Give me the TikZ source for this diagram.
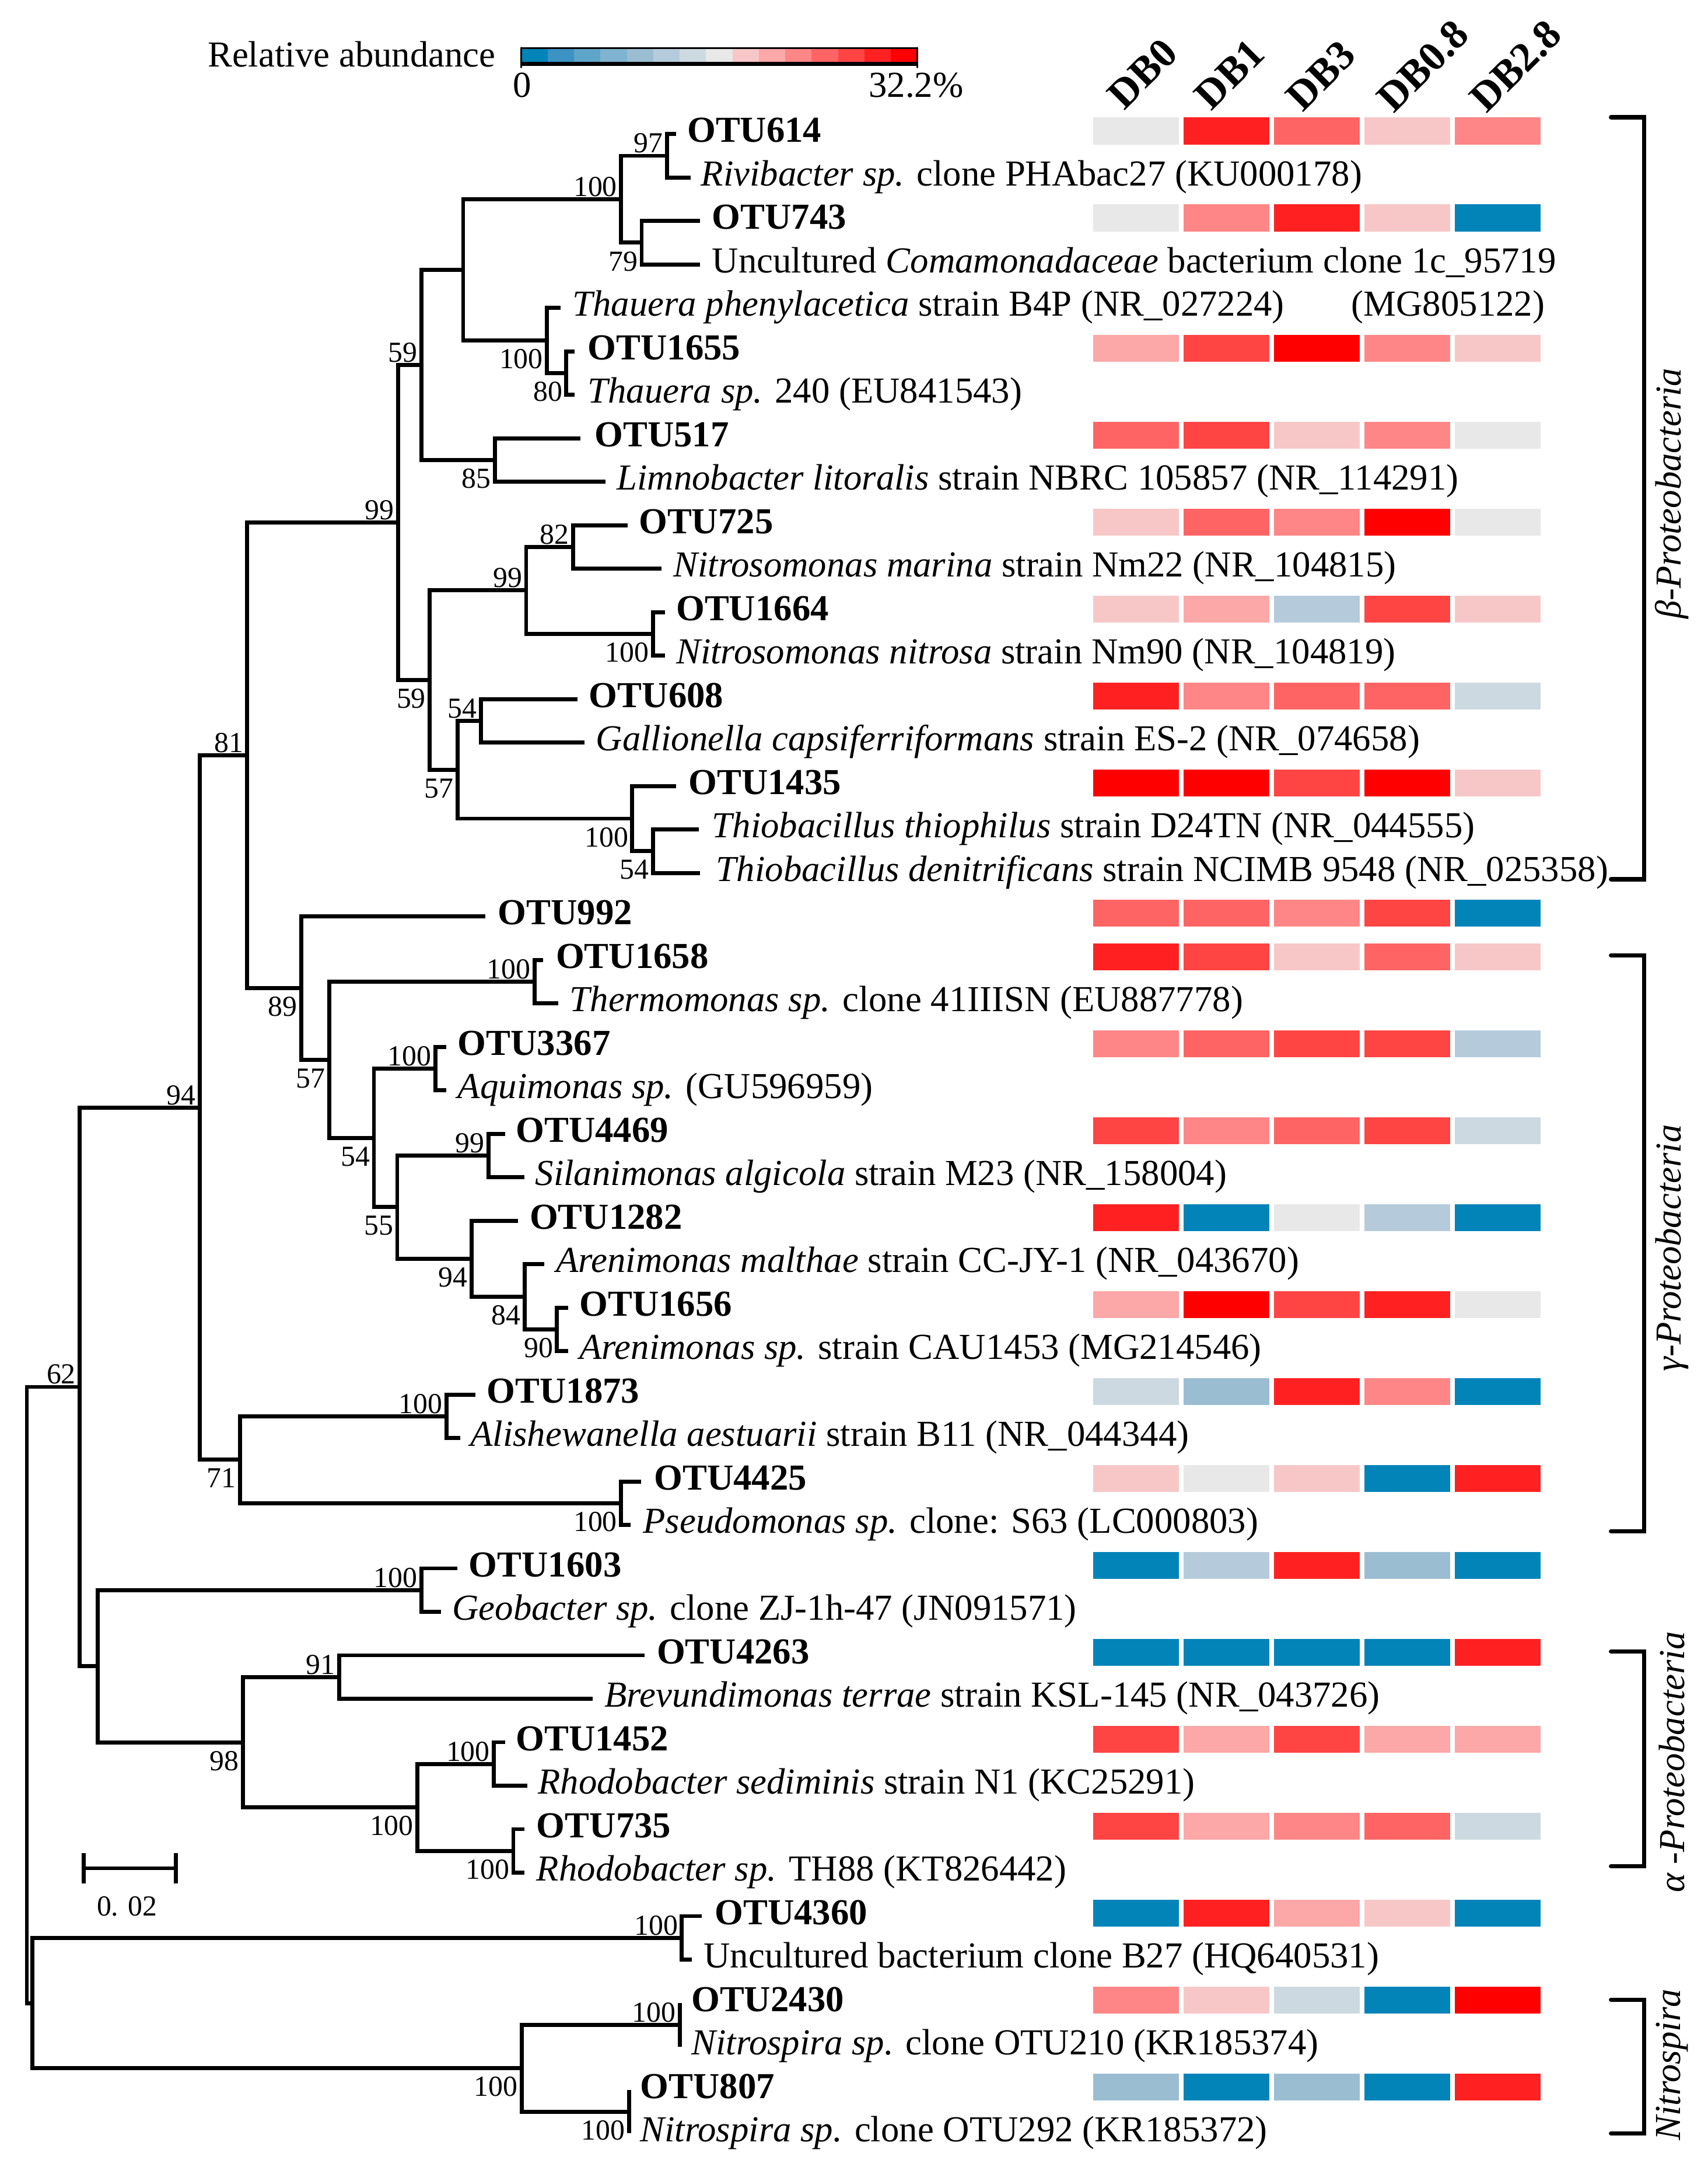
\documentclass[tikz,border=0pt]{standalone}
\usepackage{fontspec}
\setmainfont{Liberation Serif}
\usetikzlibrary{calc}
\definecolor{hm1}{HTML}{0284B9}
\definecolor{hm2}{HTML}{3B92C3}
\definecolor{hm3}{HTML}{5FA4C9}
\definecolor{hm4}{HTML}{80B3CF}
\definecolor{hm5}{HTML}{9BBDD2}
\definecolor{hm6}{HTML}{B5CBDB}
\definecolor{hm7}{HTML}{CDD9E1}
\definecolor{hm8}{HTML}{E8E8E8}
\definecolor{hm9}{HTML}{F7C7C8}
\definecolor{hm10}{HTML}{FCA7A8}
\definecolor{hm11}{HTML}{FF8686}
\definecolor{hm12}{HTML}{FF6464}
\definecolor{hm13}{HTML}{FF4444}
\definecolor{hm14}{HTML}{FF2121}
\definecolor{hm15}{HTML}{FF0000}
\newcommand{\tleaf}[5]{\coordinate (#1) at (#2,#3); \node[lab] (#1t) at (#4,{#3+6}) {#5};}
\newcommand{\bsup}[2]{\node[bs,anchor=south east,xshift=-1.25pt,yshift=0.75pt] (bs-#1) at (#1) {#2};}
\newcommand{\bsdn}[2]{\node[bs,anchor=north east,xshift=-1.25pt,yshift=-3pt] (bs-#1) at (#1) {#2};}
\newcommand{\hmrow}[6]{\foreach \c [count=\i from 0] in {#2,#3,#4,#5,#6} {\fill[hm\c] ({791+\i*65.45},{#1-12}) rectangle ({853.3+\i*65.45},{#1+7.5});}}
\begin{document}
\begin{tikzpicture}[x=0.5pt,y=-0.5pt,
  tree/.style={line width=1.45pt, line join=miter},
  brk/.style={line width=1.6pt, line join=miter, line cap=round},
  lab/.style={font=\fontsize{13.25}{15}\selectfont, inner sep=0pt, anchor=base west},
  bs/.style={font=\fontsize{10.5}{12}\selectfont, inner sep=0pt},
  hdr/.style={font=\fontsize{15}{18}\selectfont\bfseries, inner sep=0pt, rotate=45, anchor=base west},
  grp/.style={font=\fontsize{13.25}{15}\selectfont\itshape, inner sep=0pt, rotate=90}]
\useasboundingbox (0,0) rectangle (1236,1568);
\fill[white] (0,0) rectangle (1236,1568);

% ---------- legend ----------
\node[lab] (leg) at (150,48.5) {Relative abundance};
\foreach \i in {1,...,15} \fill[hm\i] ({377.3+(\i-1)*19.1},35) rectangle ({377.3+\i*19.1},45);
\draw[line width=0.55pt] (377.3,34.8) -- (663.8,34.8);
\draw[line width=1.4pt] (377.3,46.3) -- (663.8,46.3);
\draw[line width=0.55pt, line cap=round] (377.3,34.5) -- (377.3,48.8);
\draw[line width=0.55pt, line cap=round] (663.8,34.5) -- (663.8,48.8);
\node[lab,anchor=base] (leg0) at (378,70.4) {0};
\node[lab,anchor=base] (legmax) at (663,70.4) {32.2\%};

% ---------- headers ----------
\node[hdr] (hDB0) at (813.5,80.5) {DB0};
\node[hdr] (hDB1) at (876.5,81) {DB1};
\node[hdr] (hDB3) at (942.5,82) {DB3};
\node[hdr] (hDB08) at (1008.5,83) {DB0.8};
\node[hdr] (hDB28) at (1075.5,83) {DB2.8};

% ---------- leaves ----------
\tleaf{l1}{489.5}{97}{497}{\textbf{OTU614}}
\tleaf{l2}{500}{128.45}{507}{\textit{Rivibacter sp.} clone PHAbac27 (KU000178)}
\tleaf{l3}{506.8}{159.9}{515}{\textbf{OTU743}}
\tleaf{l4}{506.8}{191.35}{515}{Uncultured \textit{Comamonadaceae} bacterium clone 1c\_95719}
\tleaf{l5}{405.9}{222.8}{414}{\textit{Thauera phenylacetica} strain B4P (NR\_027224)}
\node[lab, anchor=base east] (l4b) at (1118.4,228.8) {(MG805122)};
\tleaf{l6}{416}{254.25}{425}{\textbf{OTU1655}}
\tleaf{l7}{416}{285.7}{425}{\textit{Thauera sp.} 240 (EU841543)}
\tleaf{l8}{420}{317.15}{430}{\textbf{OTU517}}
\tleaf{l9}{438.2}{348.6}{446}{\textit{Limnobacter litoralis} strain NBRC 105857 (NR\_114291)}
\tleaf{l10}{454.3}{380.05}{462}{\textbf{OTU725}}
\tleaf{l11}{478.6}{411.5}{487}{\textit{Nitrosomonas marina} strain Nm22 (NR\_104815)}
\tleaf{l12}{481.4}{442.95}{489}{\textbf{OTU1664}}
\tleaf{l13}{481.4}{474.4}{489}{\textit{Nitrosomonas nitrosa} strain Nm90 (NR\_104819)}
\tleaf{l14}{418}{505.85}{426}{\textbf{OTU608}}
\tleaf{l15}{423.2}{537.3}{431}{\textit{Gallionella capsiferriformans} strain ES-2 (NR\_074658)}
\tleaf{l16}{489.5}{568.75}{498}{\textbf{OTU1435}}
\tleaf{l17}{505.6}{600.2}{515}{\textit{Thiobacillus thiophilus} strain D24TN (NR\_044555)}
\tleaf{l18}{506.8}{631.65}{518}{\textit{Thiobacillus denitrificans} strain NCIMB 9548 (NR\_025358)}
\tleaf{l19}{351.4}{663.1}{360}{\textbf{OTU992}}
\tleaf{l20}{393}{694.55}{402}{\textbf{OTU1658}}
\tleaf{l21}{403.9}{726}{412}{\textit{Thermomonas sp.} clone 41IIISN (EU887778)}
\tleaf{l22}{323}{757.45}{331}{\textbf{OTU3367}}
\tleaf{l23}{323}{788.9}{331}{\textit{Aquimonas sp.} (GU596959)}
\tleaf{l24}{365.5}{820.35}{373}{\textbf{OTU4469}}
\tleaf{l25}{379.6}{851.8}{387}{\textit{Silanimonas algicola} strain M23 (NR\_158004)}
\tleaf{l26}{374.8}{883.25}{383}{\textbf{OTU1282}}
\tleaf{l27}{393.8}{914.7}{402}{\textit{Arenimonas malthae} strain CC-JY-1 (NR\_043670)}
\tleaf{l28}{411}{946.15}{419}{\textbf{OTU1656}}
\tleaf{l29}{411}{977.6}{419}{\textit{Arenimonas sp.} strain CAU1453 (MG214546)}
\tleaf{l30}{344}{1009.05}{352}{\textbf{OTU1873}}
\tleaf{l31}{333}{1040.5}{340}{\textit{Alishewanella aestuarii} strain B11 (NR\_044344)}
\tleaf{l32}{464}{1071.95}{473}{\textbf{OTU4425}}
\tleaf{l33}{456.4}{1103.4}{465}{\textit{Pseudomonas sp.} clone: S63 (LC000803)}
\tleaf{l34}{331.2}{1134.85}{339}{\textbf{OTU1603}}
\tleaf{l35}{319}{1166.3}{327}{\textit{Geobacter sp.} clone ZJ-1h-47 (JN091571)}
\tleaf{l36}{466.5}{1197.75}{475}{\textbf{OTU4263}}
\tleaf{l37}{428.9}{1229.2}{437}{\textit{Brevundimonas terrae} strain KSL-145 (NR\_043726)}
\tleaf{l38}{365.5}{1260.65}{373}{\textbf{OTU1452}}
\tleaf{l39}{381.6}{1292.1}{389}{\textit{Rhodobacter sediminis} strain N1 (KC25291)}
\tleaf{l40}{379.6}{1323.55}{388}{\textbf{OTU735}}
\tleaf{l41}{379.6}{1355}{388}{\textit{Rhodobacter sp.} TH88 (KT826442)}
\tleaf{l42}{508}{1386.45}{517}{\textbf{OTU4360}}
\tleaf{l43}{500.8}{1417.9}{509}{Uncultured bacterium clone B27 (HQ640531)}
\tleaf{l44}{491.9}{1449.35}{500}{\textbf{OTU2430}}
\tleaf{l45}{491.9}{1480.8}{500}{\textit{Nitrospira sp.} clone OTU210 (KR185374)}
\tleaf{l46}{455.2}{1512.25}{463}{\textbf{OTU807}}
\tleaf{l47}{455.2}{1543.7}{463}{\textit{Nitrospira sp.} clone OTU292 (KR185372)}

% ---------- internal nodes ----------
\coordinate (n97) at (482.6,112.7);
\coordinate (n79) at (464.4,175.6);
\coordinate (n100a) at (449.5,144.2);
\coordinate (n80) at (409.9,270);
\coordinate (n100b) at (395.8,246.4);
\coordinate (nA) at (335.2,195.3);
\coordinate (n85) at (358.2,332.9);
\coordinate (n59a) at (304.9,264.1);
\coordinate (n82) at (414.8,395.8);
\coordinate (n100c) at (472.5,458.7);
\coordinate (n99b) at (380.8,427.2);
\coordinate (n54a) at (348.1,521.6);
\coordinate (n54b) at (472.5,615.9);
\coordinate (n100d) at (457.6,592.3);
\coordinate (n57a) at (331.2,557);
\coordinate (n59b) at (311,492.1);
\coordinate (n99a) at (288,378.1);
\coordinate (n100e) at (386.9,710.3);
\coordinate (n100f) at (315,773.2);
\coordinate (n99c) at (353.4,836.1);
\coordinate (n90) at (403.1,961.9);
\coordinate (n84) at (379.6,938.3);
\coordinate (n94b) at (341.3,910.8);
\coordinate (n55) at (287.5,873.4);
\coordinate (n54c) at (270.6,823.3);
\coordinate (n57b) at (238.3,766.8);
\coordinate (n89) at (218.1,715);
\coordinate (n81) at (178.9,546.5);
\coordinate (n100g) at (323.1,1024.8);
\coordinate (n100h) at (449.5,1087.7);
\coordinate (n71) at (173.7,1056.2);
\coordinate (n94) at (144.6,801.4);
\coordinate (n100i) at (304.9,1150.6);
\coordinate (n91) at (245.5,1213.5);
\coordinate (n100j) at (357.4,1276.4);
\coordinate (n100k) at (371.5,1339.3);
\coordinate (n100l) at (302.1,1307.8);
\coordinate (n98) at (175.7,1260.7);
\coordinate (nB) at (70.7,1205.6);
\coordinate (n62) at (57.7,1003.5);
\coordinate (n100m) at (493.5,1402.2);
\coordinate (n100n) at (491.9,1465);
\coordinate (n100o) at (455.2,1528);
\coordinate (n100p) at (377.6,1496.5);
\coordinate (nC) at (23.4,1449.4);
\coordinate (root) at (19.4,1226.4);

% ---------- branches ----------
\draw[tree] (l1) -| (n97) |- (l2);
\draw[tree] (l3) -| (n79) |- (l4);
\draw[tree] (n97) -| (n100a) |- (n79);
\draw[tree] (l6) -| (n80) |- (l7);
\draw[tree] (l5) -| (n100b) |- (n80);
\draw[tree] (n100a) -| (nA) |- (n100b);
\draw[tree] (l8) -| (n85) |- (l9);
\draw[tree] (nA) -| (n59a) |- (n85);
\draw[tree] (l10) -| (n82) |- (l11);
\draw[tree] (l12) -| (n100c) |- (l13);
\draw[tree] (n82) -| (n99b) |- (n100c);
\draw[tree] (l14) -| (n54a) |- (l15);
\draw[tree] (l17) -| (n54b) |- (l18);
\draw[tree] (l16) -| (n100d) |- (n54b);
\draw[tree] (n54a) -| (n57a) |- (n100d);
\draw[tree] (n99b) -| (n59b) |- (n57a);
\draw[tree] (n59a) -| (n99a) |- (n59b);
\draw[tree] (l20) -| (n100e) |- (l21);
\draw[tree] (l22) -| (n100f) |- (l23);
\draw[tree] (l24) -| (n99c) |- (l25);
\draw[tree] (l28) -| (n90) |- (l29);
\draw[tree] (l27) -| (n84) |- (n90);
\draw[tree] (l26) -| (n94b) |- (n84);
\draw[tree] (n99c) -| (n55) |- (n94b);
\draw[tree] (n100f) -| (n54c) |- (n55);
\draw[tree] (n100e) -| (n57b) |- (n54c);
\draw[tree] (l19) -| (n89) |- (n57b);
\draw[tree] (n99a) -| (n81) |- (n89);
\draw[tree] (l30) -| (n100g) |- (l31);
\draw[tree] (l32) -| (n100h) |- (l33);
\draw[tree] (n100g) -| (n71) |- (n100h);
\draw[tree] (n81) -| (n94) |- (n71);
\draw[tree] (l34) -| (n100i) |- (l35);
\draw[tree] (l36) -| (n91) |- (l37);
\draw[tree] (l38) -| (n100j) |- (l39);
\draw[tree] (l40) -| (n100k) |- (l41);
\draw[tree] (n100j) -| (n100l) |- (n100k);
\draw[tree] (n91) -| (n98) |- (n100l);
\draw[tree] (n100i) -| (nB) |- (n98);
\draw[tree] (n94) -| (n62) |- (nB);
\draw[tree] (l42) -| (n100m) |- (l43);
\draw[tree] (l44) -| (n100n) |- (l45);
\draw[tree] (l46) -| (n100o) |- (l47);
\draw[tree] (n100n) -| (n100p) |- (n100o);
\draw[tree] (n100m) -| (nC) |- (n100p);
\draw[tree] (n62) -| (root) |- (nC);

% ---------- bootstrap values ----------
\bsup{n97}{97}
\bsup{n100a}{100}
\bsdn{n79}{79}
\bsdn{n100b}{100}
\bsdn{n80}{80}
\bsup{n59a}{59}
\bsdn{n85}{85}
\bsup{n99a}{99}
\bsup{n82}{82}
\bsup{n99b}{99}
\bsdn{n100c}{100}
\bsdn{n59b}{59}
\bsup{n54a}{54}
\bsdn{n57a}{57}
\bsdn{n100d}{100}
\bsdn{n54b}{54}
\bsup{n81}{81}
\bsup{n100e}{100}
\bsdn{n89}{89}
\bsdn{n57b}{57}
\bsup{n100f}{100}
\bsdn{n54c}{54}
\bsup{n99c}{99}
\bsdn{n55}{55}
\bsdn{n94b}{94}
\bsdn{n84}{84}
\bsdn{n90}{90}
\bsup{n94}{94}
\bsup{n62}{62}
\bsup{n100g}{100}
\bsdn{n71}{71}
\bsdn{n100h}{100}
\bsup{n100i}{100}
\bsup{n91}{91}
\bsdn{n98}{98}
\bsup{n100j}{100}
\bsdn{n100l}{100}
\bsdn{n100k}{100}
\bsup{n100m}{100}
\bsup{n100n}{100}
\bsdn{n100p}{100}
\bsdn{n100o}{100}

% ---------- scale bar ----------
\coordinate (sb1) at (60.6,1351.8);
\coordinate (sb2) at (127.2,1351.8);
\draw[tree] (sb1) -- (sb2);
\draw[tree] ($(sb1)+(0,-11)$) -- ($(sb1)+(0,11)$);
\draw[tree] ($(sb2)+(0,-11)$) -- ($(sb2)+(0,11)$);
\node[bs] (sblab) at (92,1379.5) {0. 02};

% ---------- heatmap ----------
\hmrow{97}{8}{14}{12}{9}{11}
\hmrow{159.9}{8}{11}{14}{9}{1}
\hmrow{254.25}{10}{13}{15}{11}{9}
\hmrow{317.15}{12}{13}{9}{11}{8}
\hmrow{380.05}{9}{12}{11}{15}{8}
\hmrow{442.95}{9}{10}{6}{13}{9}
\hmrow{505.85}{14}{11}{12}{12}{7}
\hmrow{568.75}{15}{15}{13}{15}{9}
\hmrow{663.1}{12}{12}{11}{13}{1}
\hmrow{694.55}{14}{13}{9}{12}{9}
\hmrow{757.45}{11}{12}{13}{13}{6}
\hmrow{820.35}{13}{11}{12}{13}{7}
\hmrow{883.25}{14}{1}{8}{6}{1}
\hmrow{946.15}{10}{15}{13}{14}{8}
\hmrow{1009.05}{7}{5}{14}{11}{1}
\hmrow{1071.95}{9}{8}{9}{1}{14}
\hmrow{1134.85}{1}{6}{14}{5}{1}
\hmrow{1197.75}{1}{1}{1}{1}{14}
\hmrow{1260.65}{13}{10}{13}{10}{10}
\hmrow{1323.55}{13}{10}{11}{12}{7}
\hmrow{1386.45}{1}{14}{10}{9}{1}
\hmrow{1449.35}{11}{9}{7}{1}{15}
\hmrow{1512.25}{5}{1}{5}{1}{14}

% ---------- group brackets ----------
\coordinate (bbT) at (1166,84.8);   \coordinate (bbB) at (1166,636.2);  \coordinate (bbV) at (1190,360);
\coordinate (bgT) at (1166,691.3);  \coordinate (bgB) at (1166,1108);   \coordinate (bgV) at (1190,900);
\coordinate (baT) at (1166,1195);   \coordinate (baB) at (1166,1350.4); \coordinate (baV) at (1190,1270);
\coordinate (bnT) at (1166,1447);   \coordinate (bnB) at (1166,1543.7); \coordinate (bnV) at (1190,1495);
\draw[brk] (bbT) -| (bbV) |- (bbB);
\draw[brk] (bgT) -| (bgV) |- (bgB);
\draw[brk] (baT) -| (baV) |- (baB);
\draw[brk] (bnT) -| (bnV) |- (bnB);
\node[grp] (gbeta) at (1210,357) {β-Proteobacteria};
\node[grp] (ggamma) at (1210,903) {γ-Proteobacteria};
\node[grp] (galpha) at (1210,1275) {α -Proteobacteria};
\node[grp] (gnitro) at (1210,1494) {Nitrospira};
\end{tikzpicture}
\end{document}
